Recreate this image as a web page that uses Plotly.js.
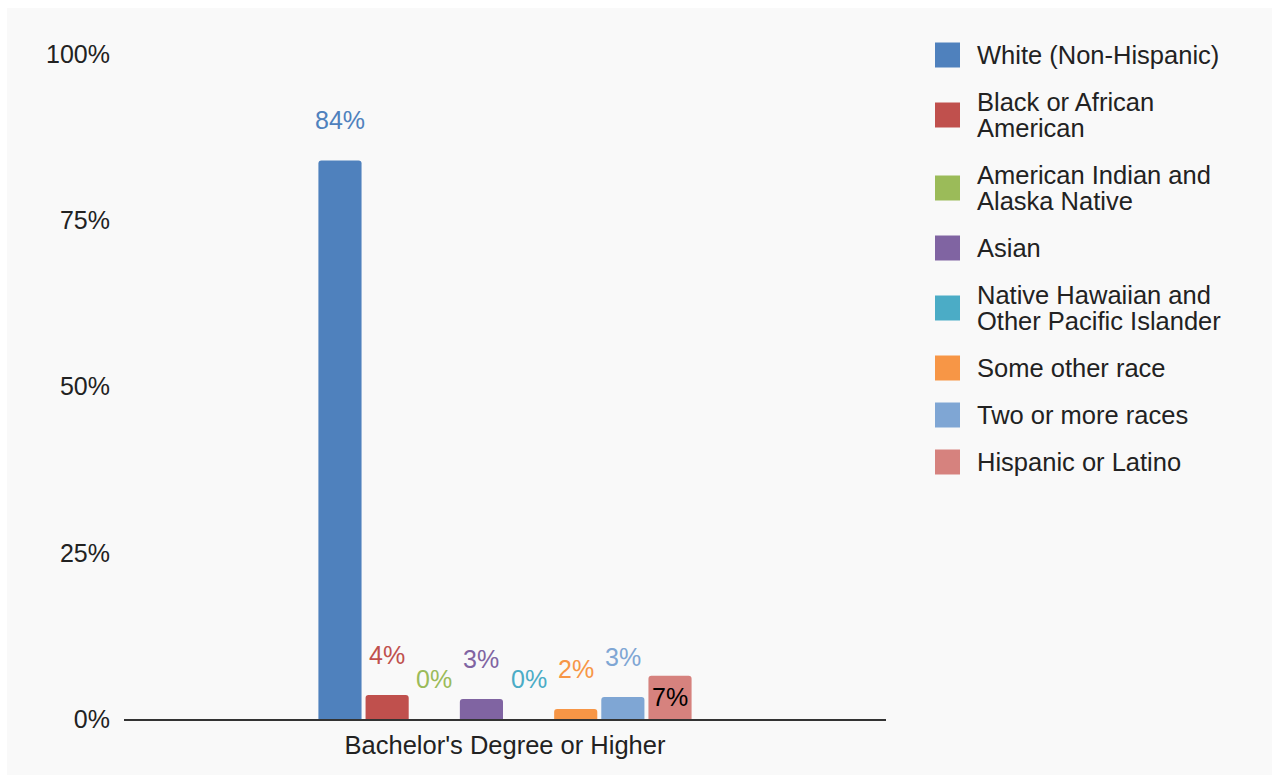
<!DOCTYPE html>
<html>
<head>
<meta charset="utf-8">
<script src="https://cdn.plot.ly/plotly-3.0.1.min.js"></script>
<style>
  html, body { margin: 0; padding: 0; background: #ffffff; }
  #chart { position: absolute; left: 7px; top: 8px; width: 1265px; height: 767px; }
</style>
</head>
<body>
<div id="chart"></div>
<script>
const categories = ["Bachelor's Degree or Higher"];
const seriesNames = [
  "White (Non-Hispanic)",
  "Black or African American",
  "American Indian and Alaska Native",
  "Asian",
  "Native Hawaiian and Other Pacific Islander",
  "Some other race",
  "Two or more races",
  "Hispanic or Latino"
];
const legendLines = [
  ["White (Non-Hispanic)"],
  ["Black or African", "American"],
  ["American Indian and", "Alaska Native"],
  ["Asian"],
  ["Native Hawaiian and", "Other Pacific Islander"],
  ["Some other race"],
  ["Two or more races"],
  ["Hispanic or Latino"]
];
const seriesValues = [84.0, 3.6, 0.0, 3.0, 0.0, 1.5, 3.3, 6.5];
const seriesColors = ["#4f81bd", "#c0504d", "#9bbb59", "#8064a2", "#4bacc6", "#f79646", "#7fa6d4", "#d6827e"];
const labelInside = [false, false, false, false, false, false, false, true];
const yTicks = [0, 25, 50, 75, 100];

const FONT = "Liberation Sans, Arial, Helvetica, sans-serif";
const TEXT = '#222222';

// layout geometry (pixels in the chart div)
const W = 1265, H = 767;
const M = { l: 117, r: 386, t: 46, b: 56 };
const plotW = W - M.l - M.r, plotH = H - M.t - M.b;
const BARGAP = 0.505, BARGROUPGAP = 0.085;
const nSeries = seriesNames.length;
const pitch = plotW * (1 - BARGAP) / nSeries;

const traces = seriesNames.map((name, i) => ({
  type: 'bar',
  name: name,
  x: categories,
  y: [seriesValues[i]],
  marker: { color: seriesColors[i] },
  showlegend: false,
  hoverinfo: 'skip'
}));

// value labels
const fmt = v => Math.round(v) + '%';
const annotations = [];
seriesValues.forEach((v, i) => {
  const inside = labelInside[i];
  annotations.push({
    xref: 'x', yref: 'y',
    x: categories[0],
    y: inside ? v / 2 : v,
    xshift: (i - (nSeries - 1) / 2) * pitch,
    yshift: inside ? 0 : 40,
    text: fmt(v),
    showarrow: false,
    xanchor: 'center', yanchor: 'middle',
    font: { family: FONT, size: 25, color: inside ? '#000000' : seriesColors[i] }
  });
});

// legend (manual, to match spacing)
const LEG = { x0: 928, sq: 25, textX: 968, y0: 47, pitch: 47, line: 26 };
const px2x = px => (px - M.l) / plotW;
const py2y = py => 1 - (py - M.t) / plotH;
const shapes = [];
let yCur = LEG.y0;
legendLines.forEach((lines, i) => {
  const n = lines.length;
  const center = yCur + (n - 1) * LEG.line / 2;
  shapes.push({
    type: 'rect', xref: 'paper', yref: 'paper',
    x0: px2x(LEG.x0), x1: px2x(LEG.x0 + LEG.sq),
    y0: py2y(center + LEG.sq / 2), y1: py2y(center - LEG.sq / 2),
    fillcolor: seriesColors[i], line: { width: 0 }
  });
  lines.forEach((t, k) => {
    annotations.push({
      xref: 'paper', yref: 'paper',
      x: px2x(LEG.textX), y: py2y(yCur + k * LEG.line),
      text: t, showarrow: false, xanchor: 'left', yanchor: 'middle',
      font: { family: FONT, size: 25.5, color: TEXT }
    });
  });
  yCur += LEG.pitch + (n - 1) * LEG.line;
});

const layout = {
  width: W,
  height: H,
  paper_bgcolor: '#f9f9f9',
  plot_bgcolor: '#f9f9f9',
  font: { family: FONT, size: 25, color: TEXT },
  margin: { l: M.l, r: M.r, t: M.t, b: M.b, pad: 0 },
  barmode: 'group',
  bargap: BARGAP,
  bargroupgap: BARGROUPGAP,
  barcornerradius: 3,
  showlegend: false,
  xaxis: {
    type: 'category',
    showline: true,
    linecolor: '#333333',
    linewidth: 1.5,
    ticks: '',
    showgrid: false,
    zeroline: false,
    ticklabelstandoff: 3,
    tickfont: { family: FONT, size: 25.5, color: TEXT },
    fixedrange: true
  },
  yaxis: {
    range: [0, 100],
    tickvals: yTicks,
    ticktext: yTicks.map(v => v + '%'),
    showgrid: false,
    zeroline: false,
    showline: false,
    ticks: '',
    ticklabelstandoff: 13,
    tickfont: { family: FONT, size: 25, color: TEXT },
    fixedrange: true
  },
  annotations: annotations,
  shapes: shapes
};

Plotly.newPlot('chart', traces, layout, { displayModeBar: false, staticPlot: true });
</script>
</body>
</html>
